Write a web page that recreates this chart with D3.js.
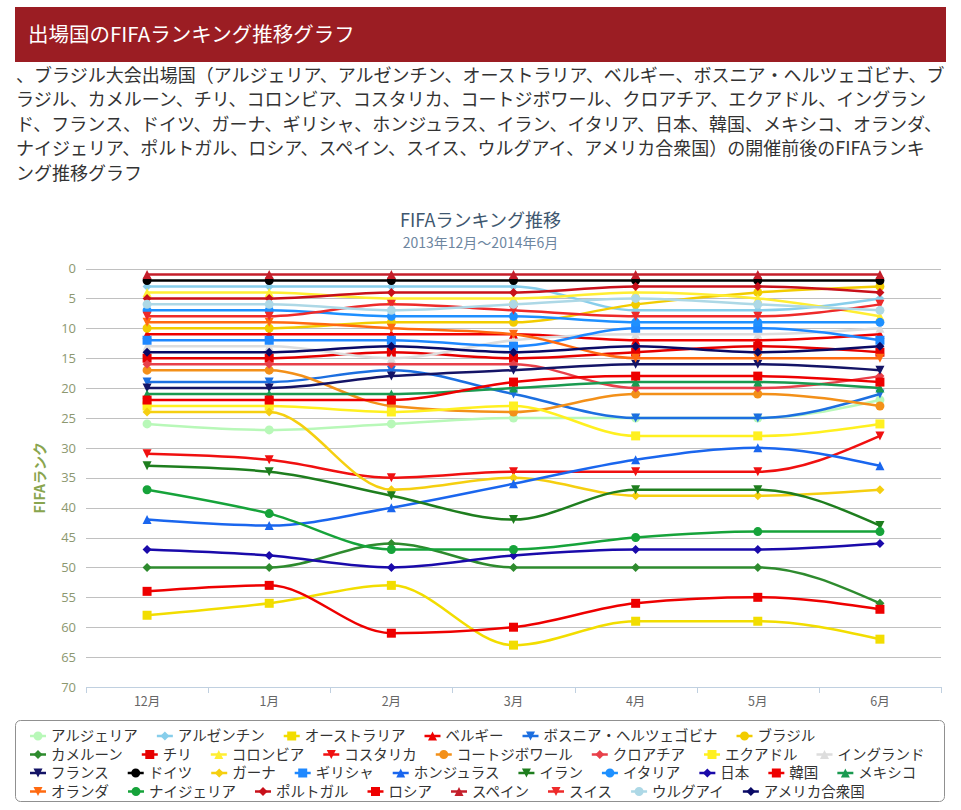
<!DOCTYPE html>
<html>
<head>
<meta charset="utf-8">
<script src="https://cdn.jsdelivr.net/npm/d3@7"></script>
<style>
body { margin: 0; background: #fff; }
text { font-family: "Noto Sans CJK JP", "Noto Sans", sans-serif; }
.num { font-family: "Open Sans", "Noto Sans", sans-serif; }
</style>
</head>
<body>
<div id="chart"></div>
<script>
var months = ["12月", "1月", "2月", "3月", "4月", "5月", "6月"];

var countries = ["アルジェリア", "アルゼンチン", "オーストラリア", "ベルギー", "ボスニア・ヘルツェゴビナ", "ブラジル",
  "カメルーン", "チリ", "コロンビア", "コスタリカ", "コートジボワール", "クロアチア", "エクアドル", "イングランド",
  "フランス", "ドイツ", "ガーナ", "ギリシャ", "ホンジュラス", "イラン", "イタリア", "日本", "韓国", "メキシコ",
  "オランダ", "ナイジェリア", "ポルトガル", "ロシア", "スペイン", "スイス", "ウルグアイ", "アメリカ合衆国"];

// one row per country, Dec 2013 .. Jun 2014
var ranks = [
  [26, 27, 26, 25, 25, 25, 22],
  [3, 3, 3, 3, 7, 7, 5],
  [58, 56, 53, 63, 59, 59, 62],
  [11, 11, 11, 11, 12, 12, 11],
  [19, 19, 17, 21, 25, 25, 21],
  [10, 10, 9, 9, 6, 4, 3],
  [50, 50, 46, 50, 50, 50, 56],
  [15, 15, 14, 15, 14, 13, 14],
  [4, 4, 5, 5, 4, 5, 8],
  [31, 32, 35, 34, 34, 34, 28],
  [17, 17, 23, 24, 21, 21, 23],
  [16, 16, 16, 16, 20, 20, 18],
  [23, 23, 24, 23, 28, 28, 26],
  [13, 13, 15, 12, 11, 11, 10],
  [20, 20, 18, 17, 16, 16, 17],
  [2, 2, 2, 2, 2, 2, 2],
  [24, 24, 37, 35, 38, 38, 37],
  [12, 12, 12, 13, 10, 10, 12],
  [42, 43, 40, 36, 32, 30, 33],
  [33, 34, 38, 42, 37, 37, 43],
  [7, 7, 8, 8, 9, 9, 9],
  [47, 48, 50, 48, 47, 47, 46],
  [54, 53, 61, 60, 56, 55, 57],
  [21, 21, 21, 20, 19, 19, 20],
  [9, 9, 10, 11, 15, 15, 15],
  [37, 41, 47, 47, 45, 44, 44],
  [5, 5, 4, 4, 3, 3, 4],
  [22, 22, 22, 19, 18, 18, 19],
  [1, 1, 1, 1, 1, 1, 1],
  [8, 8, 6, 7, 8, 8, 6],
  [6, 6, 7, 6, 5, 6, 7],
  [14, 14, 13, 14, 13, 14, 13]
];

var yTicks = [0, 5, 10, 15, 20, 25, 30, 35, 40, 45, 50, 55, 60, 65, 70];

var pageTitle = "出場国のFIFAランキング推移グラフ";
var introLines = [
  "、ブラジル大会出場国（アルジェリア、アルゼンチン、オーストラリア、ベルギー、ボスニア・ヘルツェゴビナ、ブ",
  "ラジル、カメルーン、チリ、コロンビア、コスタリカ、コートジボワール、クロアチア、エクアドル、イングラン",
  "ド、フランス、ドイツ、ガーナ、ギリシャ、ホンジュラス、イラン、イタリア、日本、韓国、メキシコ、オランダ、",
  "ナイジェリア、ポルトガル、ロシア、スペイン、スイス、ウルグアイ、アメリカ合衆国）の開催前後のFIFAランキ",
  "ング推移グラフ"
];
var chartTitle = "FIFAランキング推移";
var chartSubtitle = "2013年12月～2014年6月";
var yTitle = "FIFAランク";

var colors = ["#b8f8b8", "#87ceeb", "#f2dd00", "#ee0000", "#1c6fe0", "#f2cc00",
  "#2e8b2e", "#e60000", "#ffee33", "#f01010", "#f39019", "#e8404a", "#fff020", "#dddddd",
  "#141466", "#000000", "#f5cf10", "#1e88ff", "#1a66ee", "#1e7e1e", "#1e90ff", "#1a0aaa", "#ee0000", "#1a9a50",
  "#ff6a10", "#16a33a", "#c8101a", "#ee0000", "#c41e2a", "#ee2a2a", "#add8e6", "#0a0a66"];
var symbols = ["circle", "diamond", "square", "triangle", "triangle-down"];
var legendRowBreaks = [6, 14, 24];

var width = 961, height = 810;
var plotLeft = 86, plotRight = 941, plotTop = 268.5, plotBottom = 687;

var svg = d3.select("#chart").append("svg")
  .attr("width", width)
  .attr("height", height);

// header
svg.append("rect")
  .attr("x", 15).attr("y", 7)
  .attr("width", 931).attr("height", 55)
  .attr("fill", "#9b1d23");
svg.append("text")
  .attr("x", 28).attr("y", 42)
  .attr("font-size", "20.5px")
  .attr("fill", "#fff")
  .text(pageTitle);

svg.selectAll(".intro")
  .data(introLines)
  .enter()
  .append("text")
  .attr("class", "intro")
  .attr("x", 16)
  .attr("y", function(d, i){ return 82 + i * 24.4; })
  .attr("font-size", "18px")
  .attr("fill", "#333")
  .text(function(d){ return d; });

// titles
svg.append("text")
  .attr("x", width / 2).attr("y", 227)
  .attr("text-anchor", "middle")
  .attr("font-size", "18px")
  .attr("fill", "#3e576f")
  .text(chartTitle);
svg.append("text")
  .attr("x", width / 2).attr("y", 248)
  .attr("text-anchor", "middle")
  .attr("font-size", "14px")
  .attr("fill", "#6d869f")
  .text(chartSubtitle);

var x = d3.scaleBand().domain(months).range([plotLeft, plotRight]);
var y = d3.scaleLinear().domain([0, 70]).range([plotTop, plotBottom]);
function cx(m){ return x(m) + x.bandwidth() / 2; }

// grid + y labels
var yAxis = svg.append("g")
  .attr("transform", "translate(" + plotLeft + ",0)")
  .call(d3.axisLeft(y).tickValues(yTicks).tickSize(-(plotRight - plotLeft)).tickPadding(10));
yAxis.select(".domain").remove();
yAxis.selectAll("line")
  .attr("stroke", function(d){ return d === 70 ? "none" : "#c0c0c0"; })
  .attr("stroke-width", 1)
  .attr("shape-rendering", "crispEdges");
yAxis.selectAll("text")
  .attr("class", "num")
  .attr("font-size", "13px")
  .attr("fill", "#8c9870");

svg.append("text")
  .attr("transform", "translate(45," + ((plotTop + plotBottom) / 2) + ") rotate(-90)")
  .attr("text-anchor", "middle")
  .attr("font-size", "14px")
  .attr("font-weight", "bold")
  .attr("fill", "#89a54e")
  .text(yTitle);

// x axis
svg.append("line")
  .attr("x1", plotLeft).attr("x2", plotRight)
  .attr("y1", plotBottom + 0.5).attr("y2", plotBottom + 0.5)
  .attr("stroke", "#c0d0e0");
var boundaries = months.map(function(m){ return x(m); }).concat([plotRight]);
svg.selectAll(".xtick")
  .data(boundaries)
  .enter()
  .append("line")
  .attr("x1", function(d){ return Math.round(d) + 0.5; })
  .attr("x2", function(d){ return Math.round(d) + 0.5; })
  .attr("y1", plotBottom).attr("y2", plotBottom + 6)
  .attr("stroke", "#c0d0e0");
svg.selectAll(".xlab")
  .data(months)
  .enter()
  .append("text")
  .attr("x", cx)
  .attr("y", plotBottom + 19)
  .attr("text-anchor", "middle")
  .attr("font-size", "12.5px")
  .attr("fill", "#666")
  .text(function(d){ return d; });

function symbolPath(type, px, py, r) {
  if (type === "circle") {
    return "M" + (px - r) + "," + py + "a" + r + "," + r + " 0 1,0 " + (2 * r) + ",0a" + r + "," + r + " 0 1,0 " + (-2 * r) + ",0Z";
  }
  if (type === "square") {
    return "M" + (px - r) + "," + (py - r) + "h" + (2 * r) + "v" + (2 * r) + "h" + (-2 * r) + "Z";
  }
  if (type === "triangle") {
    return "M" + px + "," + (py - r) + "L" + (px + r) + "," + (py + r) + "L" + (px - r) + "," + (py + r) + "Z";
  }
  if (type === "triangle-down") {
    return "M" + (px - r) + "," + (py - r) + "L" + (px + r) + "," + (py - r) + "L" + px + "," + (py + r) + "Z";
  }
  return "M" + px + "," + (py - r) + "L" + (px + r) + "," + py + "L" + px + "," + (py + r) + "L" + (px - r) + "," + py + "Z";
}

var line = d3.line()
  .x(function(d, i){ return cx(months[i]); })
  .y(function(d){ return y(d); })
  .curve(d3.curveMonotoneX);

var series = svg.selectAll(".series")
  .data(ranks)
  .enter()
  .append("g")
  .attr("class", "series");

series.append("path")
  .attr("d", line)
  .attr("fill", "none")
  .attr("stroke", function(d, i){ return colors[i]; })
  .attr("stroke-width", 2.5);

series.each(function(d, i){
  d3.select(this).selectAll("path.pt")
    .data(d)
    .enter()
    .append("path")
    .attr("class", "pt")
    .attr("d", function(v, j){ return symbolPath(symbols[i % 5], cx(months[j]), y(v), 4.5); })
    .attr("fill", colors[i]);
});

// legend
svg.append("rect")
  .attr("x", 15.5).attr("y", 720.5)
  .attr("width", 929).attr("height", 81)
  .attr("rx", 5)
  .attr("fill", "none")
  .attr("stroke", "#909090");

var rowY = [736, 754.5, 773, 791.5];
var row = 0, curX = 30;
countries.forEach(function(name, i){
  if (legendRowBreaks.indexOf(i) >= 0) { row++; curX = 30; }
  var g = svg.append("g").attr("transform", "translate(" + curX + "," + rowY[row] + ")");
  g.append("line")
    .attr("x1", 0).attr("x2", 16)
    .attr("stroke", colors[i]).attr("stroke-width", 2.5);
  g.append("path")
    .attr("d", symbolPath(symbols[i % 5], 8, 0, 4.5))
    .attr("fill", colors[i]);
  var t = g.append("text")
    .attr("x", 21).attr("y", 5)
    .attr("font-size", "14.5px")
    .attr("fill", "#333")
    .text(name);
  curX += 21 + t.node().getComputedTextLength() + 19;
});
</script>
</body>
</html>
